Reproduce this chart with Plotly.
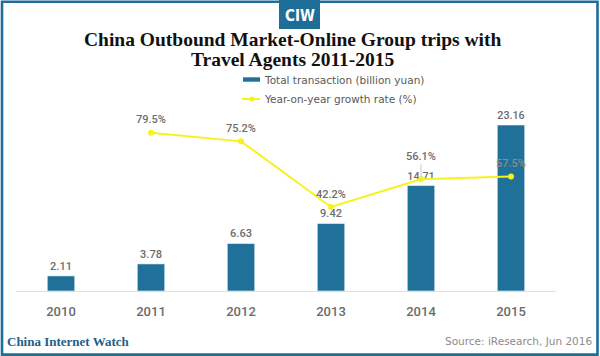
import plotly.graph_objects as go

years = ["2010", "2011", "2012", "2013", "2014", "2015"]
transaction = [2.11, 3.78, 6.63, 9.42, 14.71, 23.16]
growth_years = ["2011", "2012", "2013", "2014", "2015"]
growth = [79.5, 75.2, 42.2, 56.1, 57.5]

W, H = 600, 356
ML, MR, MT, MB = 16, 44, 100, 65
PW, PH = W - ML - MR, H - MT - MB

def px(x):
    return (x - ML) / PW

def py(y):
    return (H - MB - y) / PH

BLUE = "#20719a"
FRAME = "#1f6e99"
YEL = "#f7f21e"
LBL = "#6d6d6d"
SANS = "Roboto, Open Sans, sans-serif"
WIDE = "DejaVu Sans, Verdana, sans-serif"
SERIF = "Liberation Serif, Times New Roman, serif"

fig = go.Figure()
fig.add_trace(go.Bar(
    x=years, y=transaction, width=0.305,
    marker=dict(color=BLUE, line=dict(color="rgba(255,255,255,0.55)", width=1)),
    text=[f"{v:.2f}" for v in transaction], textposition="outside",
    textfont=dict(family=SANS, size=11, color=LBL, weight=500), cliponaxis=False,
    showlegend=False, hoverinfo="skip",
))
fig.add_trace(go.Scatter(
    x=growth_years, y=growth, yaxis="y2", mode="lines+markers",
    line=dict(color=YEL, width=2), marker=dict(color=YEL, size=6),
    showlegend=False, hoverinfo="skip", cliponaxis=False,
))

ann = []
for yr, g in zip(growth_years, growth):
    xi = years.index(yr)
    if yr == "2014":
        ann.append(dict(x=xi, y=g, xref="x", yref="y2", text=f"{g}%", showarrow=True,
                        ax=0, ay=-23, arrowhead=0, arrowwidth=0.7, arrowcolor="#b0b0b0",
                        standoff=2, font=dict(family=SANS, size=11, color=LBL, weight=500)))
    else:
        col = "#8a8a8a" if yr == "2015" else LBL
        ann.append(dict(x=xi, y=g, xref="x", yref="y2", text=f"{g}%", showarrow=False,
                        yshift=13, font=dict(family=SANS, size=11, color=col, weight=500)))

# title (two lines)
for txt, yy in [("China Outbound Market-Online Group trips with", 40),
                ("Travel Agents 2011-2015", 59.5)]:
    ann.append(dict(x=px(292.5), y=py(yy), xref="paper", yref="paper", showarrow=False,
                    text=f"<b>{txt}</b>",
                    font=dict(family=SERIF, size=19.5, color="#111111"),
                    xanchor="center", yanchor="middle"))
# logo text
ann.append(dict(x=px(300), y=py(16), xref="paper", yref="paper", showarrow=False,
                text="<b>CIW</b>", font=dict(family="DejaVu Sans Condensed, Liberation Sans Narrow, sans-serif", size=15, color="white"),
                xanchor="center", yanchor="middle"))
# legend texts
ann.append(dict(x=px(262), y=py(79.5), xref="paper", yref="paper", showarrow=False,
                text="Total transaction (billion yuan)", font=dict(family=WIDE, size=10.5, color="#595959"),
                xanchor="left", yanchor="middle"))
ann.append(dict(x=px(262), y=py(99), xref="paper", yref="paper", showarrow=False,
                text="Year-on-year growth rate (%)", font=dict(family=WIDE, size=10.5, color="#595959"),
                xanchor="left", yanchor="middle"))
# footer
ann.append(dict(x=px(5), y=py(341), xref="paper", yref="paper", showarrow=False,
                text="<b>China Internet Watch</b>", font=dict(family=SERIF, size=13, color="#1f5f8a"),
                xanchor="left", yanchor="middle"))
ann.append(dict(x=px(594), y=py(341), xref="paper", yref="paper", showarrow=False,
                text="Source: iResearch, Jun 2016", font=dict(family=WIDE, size=10.5, color="#8c8c8c"),
                xanchor="right", yanchor="middle"))

shapes = [
    dict(type="rect", xref="paper", yref="paper", x0=px(2), x1=px(597.5), y0=py(1.8), y1=py(354.6),
         line=dict(color=FRAME, width=2.6), fillcolor="rgba(0,0,0,0)", layer="above"),
    dict(type="rect", xref="paper", yref="paper", x0=px(279), x1=px(320), y0=py(0), y1=py(29),
         line=dict(width=0), fillcolor=FRAME),
    dict(type="rect", xref="paper", yref="paper", x0=px(243), x1=px(260), y0=py(77.3), y1=py(81.7),
         line=dict(width=0), fillcolor=BLUE),
    dict(type="line", xref="paper", yref="paper", x0=px(242), x1=px(260), y0=py(99), y1=py(99),
         line=dict(color=YEL, width=2)),
    dict(type="circle", xref="paper", yref="paper", x0=px(249.5), x1=px(254.5), y0=py(96.5), y1=py(101.5),
         line=dict(width=0), fillcolor=YEL),
]

hidden = dict(showgrid=False, zeroline=False, showline=False, showticklabels=False,
              ticks="", fixedrange=True)
fig.update_layout(
    width=W, height=H, margin=dict(l=ML, r=MR, t=MT, b=MB),
    paper_bgcolor="white", plot_bgcolor="white",
    xaxis=dict(type="category", range=[-0.5, 5.5], showgrid=False, showline=True,
               linecolor="#dedede", linewidth=1, ticks="", ticklabelstandoff=8,
               tickfont=dict(family=SANS, size=13, color="#6b6b6b", weight=500), fixedrange=True),
    yaxis=dict(range=[0, PH / 7.168], **hidden),
    yaxis2=dict(range=[0, PH / 1.99], overlaying="y", side="right", **hidden),
    annotations=ann, shapes=shapes, showlegend=False,
)

fig.write_html("out.html", config={"displayModeBar": False},
               post_script="document.body.style.margin='0';document.body.style.overflow='hidden';")
